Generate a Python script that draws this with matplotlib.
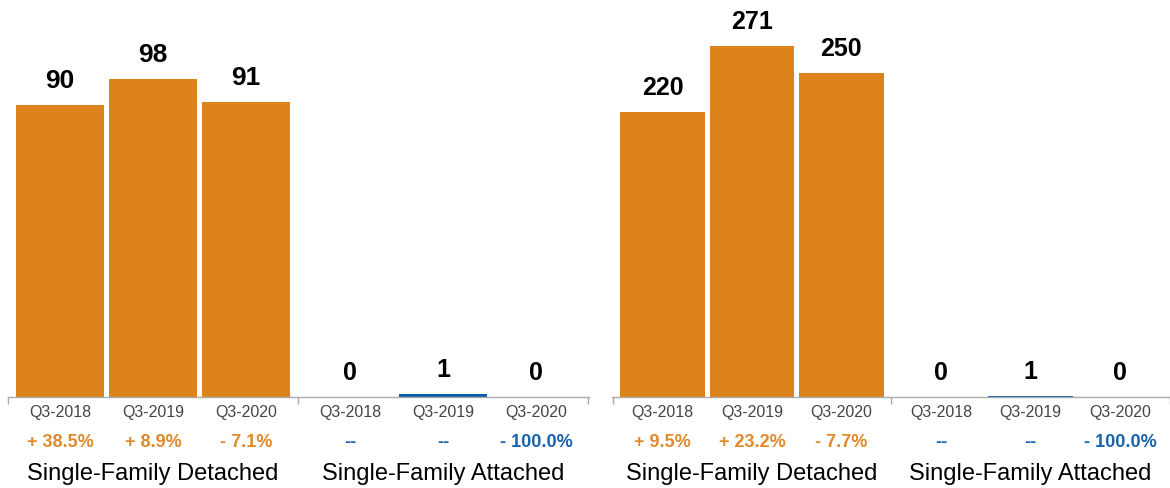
import numpy as np
import matplotlib
matplotlib.use('Agg')
import matplotlib.pyplot as plt

plt.rcParams['font.family'] = ['Liberation Sans', 'DejaVu Sans']

quarters = ['Q3-2018', 'Q3-2019', 'Q3-2020']
groups = ['Single-Family Detached', 'Single-Family Attached']

# left panel
left_detached = [90, 98, 91]
left_attached = [0, 1, 0]
left_det_pct = ['+ 38.5%', '+ 8.9%', '- 7.1%']
left_att_pct = ['--', '--', '- 100.0%']

# right panel
right_detached = [220, 271, 250]
right_attached = [0, 1, 0]
right_det_pct = ['+ 9.5%', '+ 23.2%', '- 7.7%']
right_att_pct = ['--', '--', '- 100.0%']

orange = '#dc831c'
blue = '#0b5daa'
pct_orange = '#e0892a'
pct_blue = '#1862ae'
W, H = 1170, 488
gstep = 3.12

fig = plt.figure(figsize=(W / 100, H / 100), dpi=100)


def panel(rect, det, att, det_pct, att_pct, ymax, xlim, det_fs):
    ax = fig.add_axes(rect)
    ax.set_ylim(0, ymax)
    ax.set_xlim(*xlim)
    x1 = np.arange(3)
    x2 = x1 + gstep
    ax.bar(x1, det, width=0.95, color=orange)
    ax.bar(x2, att, width=0.95, color=blue)
    for s in ['top', 'left', 'right']:
        ax.spines[s].set_visible(False)
    ax.spines['bottom'].set_color('#aaaaaa')
    ax.spines['bottom'].set_linewidth(1)
    ax.set_yticks([])
    ax.set_xticks([])
    b = [-0.56, gstep - 0.56, 2 * gstep - 0.56]
    ax.set_xticks(b, minor=True)
    ax.tick_params(axis='x', which='minor', length=5, color='#aaaaaa', width=1)

    for xs, vals, pcts, pc, fs in [(x1, det, det_pct, pct_orange, det_fs),
                                   (x2, att, att_pct, pct_blue, 18)]:
        for x, v, q, p in zip(xs, vals, quarters, pcts):
            ax.annotate(str(v), (x, v), xytext=(0, 17), textcoords='offset pixels',
                        ha='center', va='baseline', fontsize=fs, fontweight='bold')
            ax.annotate(q, (x, 0), xytext=(0, -20), textcoords='offset pixels',
                        ha='center', va='baseline', fontsize=11.5, color='#444444',
                        annotation_clip=False)
            ax.annotate(p, (x, 0), xytext=(0, -50), textcoords='offset pixels',
                        ha='center', va='baseline', fontsize=13, fontweight='bold',
                        color=pc, annotation_clip=False)
    for xs, g in zip([x1, x2], groups):
        ax.annotate(g, (xs[1], 0), xytext=(0, -83), textcoords='offset pixels',
                    ha='center', va='baseline', fontsize=17, color='black',
                    annotation_clip=False)
    return ax


base = 397
panel([8 / W, (H - base) / H, 581 / W, base / H],
      left_detached, left_attached, left_det_pct, left_att_pct,
      base / 3.24, (-0.56, 5.687), 19)
panel([612 / W, (H - base) / H, 558 / W, base / H],
      right_detached, right_attached, right_det_pct, right_att_pct,
      base / 1.2955, (-0.567, 5.633), 18)

fig.savefig('out.png', dpi=100)
